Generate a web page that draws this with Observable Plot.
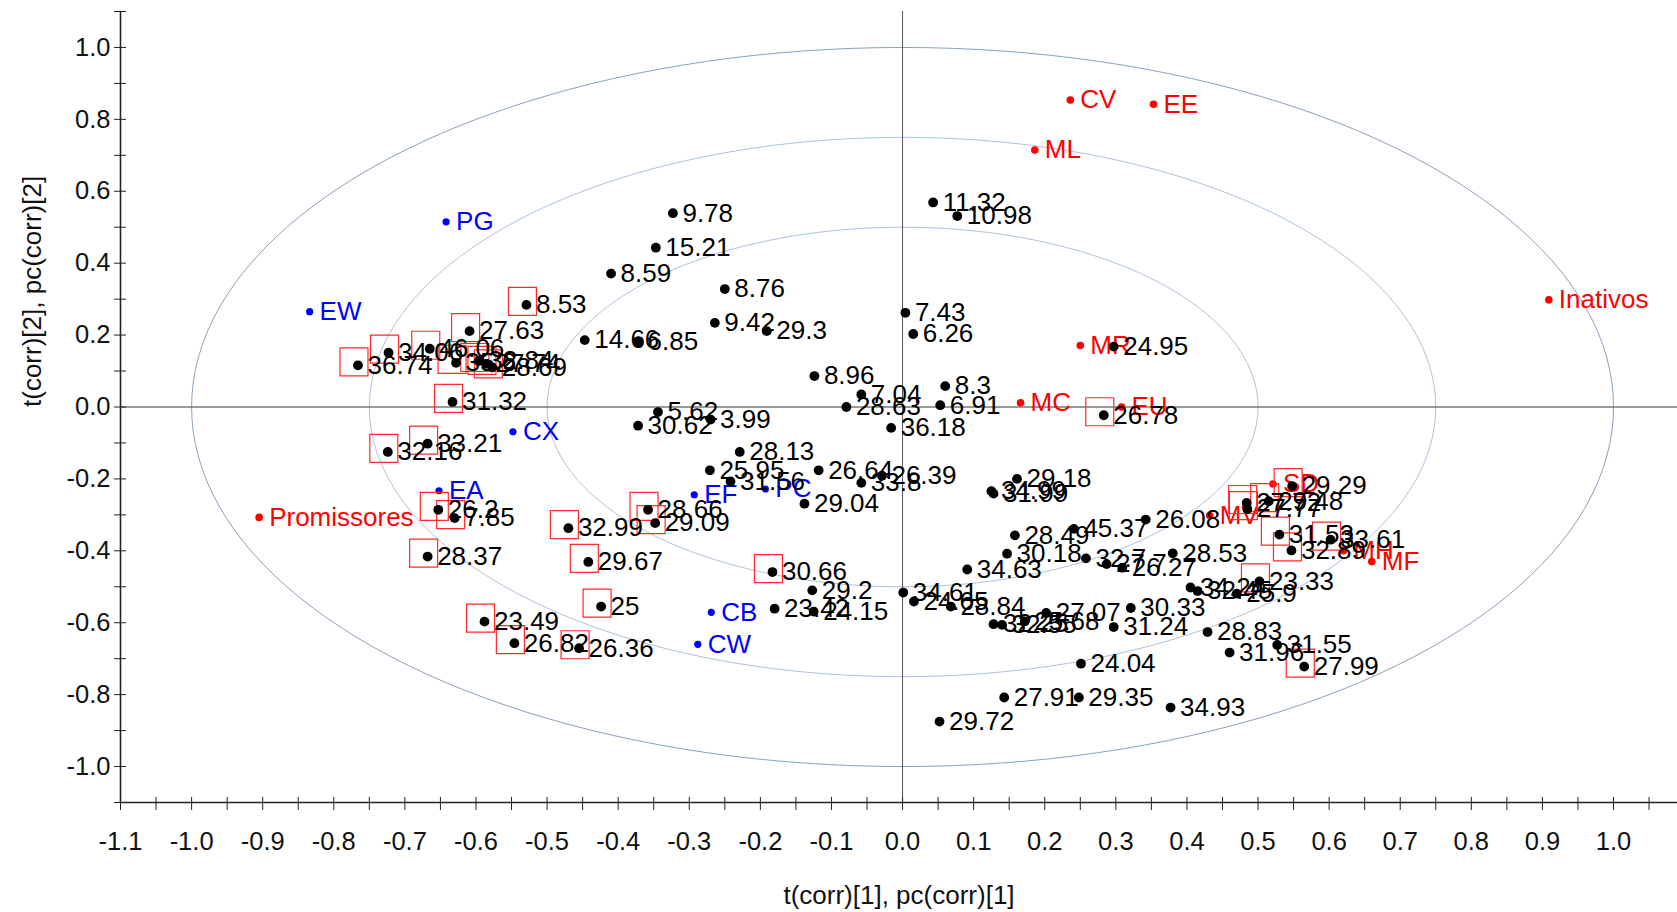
<!DOCTYPE html>
<html>
<head>
<meta charset="utf-8">
<script src="https://cdn.jsdelivr.net/npm/d3@7"></script>
<script src="https://cdn.jsdelivr.net/npm/@observablehq/plot@0.6"></script>
<style>
  html, body { margin: 0; padding: 0; background: #fff; }
  #chart svg { display: block; }
</style>
</head>
<body>
<div id="chart"></div>
<script>
// Observation scores t(corr)[1], t(corr)[2] with their labels; boxed marks are flagged.
const scoreLabels = [
  "11.32","10.98","9.78","15.21","8.59","8.76","8.53","27.63","14.66","6.85",
  "9.42","29.3","7.43","6.26","8.96","8.3","7.04","28.63","6.91","36.18",
  "5.62","3.99","30.62","28.13","25.95","31.56","26.64","33.8","26.39","29.04",
  "30.66","29.2","23.42","24.15","34.61","24.65","28.84","36.74","34.06","46.06",
  "35.6","32.84","27.74","28.69","31.32","33.21","32.16","26.2","7.85","28.37",
  "32.99","29.67","28.66","29.09","25","23.49","26.82","26.36","26.78","24.95",
  "29.18","34.99","31.99","28.49","45.37","26.08","30.18","34.63","32.7","27.7",
  "26.27","28.53","34.24","32.45","25.9","23.33","27.72","27.77","29.48","29.29",
  "31.53","32.89","33.61","32.25","32.55","25.68","27.07","30.33","31.24","24.04",
  "27.91","29.35","34.93","29.72","28.83","31.96","31.55","27.99"
];
const scoreT1 = [
  0.043, 0.077, -0.323, -0.347, -0.410, -0.250, -0.529, -0.609, -0.447, -0.372,
  -0.264, -0.191, 0.004, 0.015, -0.124, 0.060, -0.058, -0.079, 0.053, -0.016,
  -0.344, -0.270, -0.372, -0.229, -0.271, -0.242, -0.118, -0.058, -0.029, -0.138,
  -0.183, -0.127, -0.180, -0.125, 0.001, 0.016, 0.068, -0.766, -0.723, -0.665,
  -0.628, -0.596, -0.586, -0.577, -0.633, -0.668, -0.724, -0.653, -0.630, -0.668,
  -0.470, -0.442, -0.358, -0.348, -0.424, -0.588, -0.546, -0.455, 0.283, 0.297,
  0.161, 0.125, 0.128, 0.158, 0.241, 0.342, 0.147, 0.091, 0.258, 0.287,
  0.309, 0.380, 0.405, 0.415, 0.470, 0.502, 0.484, 0.485, 0.515, 0.548,
  0.530, 0.547, 0.602, 0.128, 0.140, 0.172, 0.202, 0.321, 0.297, 0.251,
  0.143, 0.248, 0.377, 0.052, 0.429, 0.460, 0.527, 0.565
];
const scoreT2 = [
  0.569, 0.531, 0.539, 0.443, 0.371, 0.328, 0.284, 0.211, 0.186, 0.182,
  0.234, 0.211, 0.262, 0.203, 0.086, 0.058, 0.035, 0.000, 0.005, -0.058,
  -0.014, -0.035, -0.052, -0.125, -0.176, -0.207, -0.176, -0.211, -0.191, -0.269,
  -0.459, -0.510, -0.561, -0.569, -0.516, -0.541, -0.555, 0.116, 0.151, 0.162,
  0.123, 0.128, 0.120, 0.110, 0.014, -0.102, -0.125, -0.286, -0.309, -0.416,
  -0.337, -0.431, -0.286, -0.323, -0.555, -0.597, -0.657, -0.671, -0.023, 0.168,
  -0.200, -0.234, -0.241, -0.357, -0.339, -0.313, -0.408, -0.452, -0.421, -0.437,
  -0.447, -0.407, -0.502, -0.512, -0.519, -0.485, -0.267, -0.284, -0.262, -0.220,
  -0.355, -0.399, -0.369, -0.604, -0.606, -0.596, -0.573, -0.559, -0.612, -0.714,
  -0.808, -0.808, -0.836, -0.875, -0.626, -0.683, -0.662, -0.722
];
const scoreBoxed = [
  0,0,0,0,0,0,1,1,0,0,
  0,0,0,0,0,0,0,0,0,0,
  0,0,0,0,0,0,0,0,0,0,
  1,0,0,0,0,0,0,1,1,1,
  1,1,1,1,1,1,1,1,1,1,
  1,1,1,1,1,1,1,1,1,0,
  0,0,0,0,0,0,0,0,0,0,
  0,0,0,0,0,1,1,1,1,1,
  1,1,1,0,0,0,0,0,0,0,
  0,0,0,0,0,0,0,1
];

// X-variable loadings pc(corr)[1], pc(corr)[2] (blue)
const xVarNames = ["PG", "EW", "CX", "EA", "EF", "PC", "CB", "CW"];
const xVarP1 = [-0.642, -0.834, -0.548, -0.652, -0.293, -0.193, -0.269, -0.288];
const xVarP2 = [0.515, 0.265, -0.069, -0.233, -0.244, -0.228, -0.571, -0.660];

// Y-variable loadings (red)
const yVarNames = ["CV", "EE", "ML", "Inativos", "MR", "MC", "EU", "Promissores", "MV", "SD", "MH", "MF"];
const yVarP1 = [0.236, 0.353, 0.186, 0.909, 0.250, 0.166, 0.308, -0.905, 0.432, 0.521, 0.620, 0.660];
const yVarP2 = [0.854, 0.842, 0.715, 0.298, 0.171, 0.012, 0.000, -0.307, -0.302, -0.214, -0.400, -0.430];

// Correlation circles (radius in correlation units)
const circleRadii = [0.5, 0.75, 1.0];

// Axis ticks and labels
const xTickLabels = [-1.1, -1.0, -0.9, -0.8, -0.7, -0.6, -0.5, -0.4, -0.3, -0.2, -0.1, 0.0, 0.1, 0.2, 0.3, 0.4, 0.5, 0.6, 0.7, 0.8, 0.9, 1.0];
const xTickMarks = d3.range(-22, 22).map(i => i / 20);
const yTickLabels = [-1.0, -0.8, -0.6, -0.4, -0.2, 0.0, 0.2, 0.4, 0.6, 0.8, 1.0];
const yTickMarks = d3.range(-11, 12).map(i => i / 10);
const xTitle = "t(corr)[1], pc(corr)[1]";
const yTitle = "t(corr)[2], pc(corr)[2]";

const scores = scoreLabels.map((label, i) => ({label, t1: scoreT1[i], t2: scoreT2[i], boxed: !!scoreBoxed[i]}));
const xVars = xVarNames.map((name, i) => ({name, p1: xVarP1[i], p2: xVarP2[i]}));
const yVars = yVarNames.map((name, i) => ({name, p1: yVarP1[i], p2: yVarP2[i]}));
const circles = circleRadii.flatMap(r =>
  d3.range(0, 361, 2).map(a => ({r, cx: r * Math.cos(a * Math.PI / 180), cy: r * Math.sin(a * Math.PI / 180)}))
);

const font = "Liberation Sans, Arial, Helvetica, sans-serif";
const fmt = d => (Math.abs(d) < 1e-9 ? 0 : d).toFixed(1);

const chart = Plot.plot({
  width: 1677,
  height: 912,
  marginLeft: 120,
  marginRight: 0,
  marginTop: 11,
  marginBottom: 110,
  x: {domain: [-1.1, 1.09], label: null},
  y: {domain: [-1.1, 1.1], label: null},
  style: {fontFamily: font, background: "#fff", color: "#111"},
  marks: [
    // correlation circles
    Plot.line(circles.filter(d => d.r === 1), {x: "cx", y: "cy", z: "r", stroke: "#8ca1bd", strokeWidth: 1}),
    Plot.line(circles.filter(d => d.r !== 1), {x: "cx", y: "cy", z: "r", stroke: "#b0c2da", strokeWidth: 1}),
    // origin lines
    Plot.ruleX([0], {stroke: "#555", strokeWidth: 1}),
    Plot.ruleY([0], {stroke: "#777", strokeWidth: 1.4}),
    // axis lines
    Plot.ruleY([-1.1], {stroke: "#222", strokeWidth: 1.6}),
    Plot.ruleX([-1.1], {stroke: "#222", strokeWidth: 1.6}),
    // ticks crossing the axis lines
    Plot.axisX({ticks: xTickMarks.filter(d => d <= 1.09), tickSize: 13, dy: -5, tickFormat: () => "", label: null, stroke: "#222"}),
    Plot.axisY({ticks: yTickMarks, tickSize: 12, dx: 6, tickFormat: () => "", label: null, stroke: "#222"}),
    // tick labels
    Plot.axisX({ticks: xTickLabels, tickSize: 0, tickPadding: 29, tickFormat: fmt, fontSize: 25.5, label: null, fill: "#111"}),
    Plot.axisY({ticks: yTickLabels, tickSize: 0, tickPadding: 10, tickFormat: fmt, fontSize: 25.5, label: null, fill: "#111"}),
    // axis titles
    Plot.text([xTitle], {frameAnchor: "bottom", dy: 101, text: d => d, fontSize: 26, fill: "#111"}),
    Plot.text([yTitle], {frameAnchor: "left", dx: -88, text: d => d, fontSize: 26, rotate: -90, fill: "#111"}),
    // X variables (blue)
    Plot.dot(xVars, {x: "p1", y: "p2", r: 3.6, fill: "#0000ff"}),
    Plot.text(xVars, {x: "p1", y: "p2", text: "name", dx: 10, textAnchor: "start", fontSize: 26, fill: "#0000ff"}),
    // Y variables (red)
    Plot.dot(yVars, {x: "p1", y: "p2", r: 3.8, fill: "#ff0000"}),
    Plot.text(yVars, {x: "p1", y: "p2", text: "name", dx: 10, textAnchor: "start", fontSize: 26, fill: "#ff0000"}),
    // highlighted observations
    Plot.dot(scores.filter(d => d.boxed), {x: "t1", y: "t2", symbol: "square", r: 15.8, dx: -4, dy: -3.5, fill: "none", stroke: "#ff2a2a", strokeWidth: 1.2}),
    // observations
    Plot.dot(scores, {x: "t1", y: "t2", r: 4.9, fill: "#000"}),
    Plot.text(scores, {x: "t1", y: "t2", text: "label", dx: 9.5, textAnchor: "start", fontSize: 26, fill: "#000"})
  ]
});

document.getElementById("chart").append(chart);
</script>
</body>
</html>
